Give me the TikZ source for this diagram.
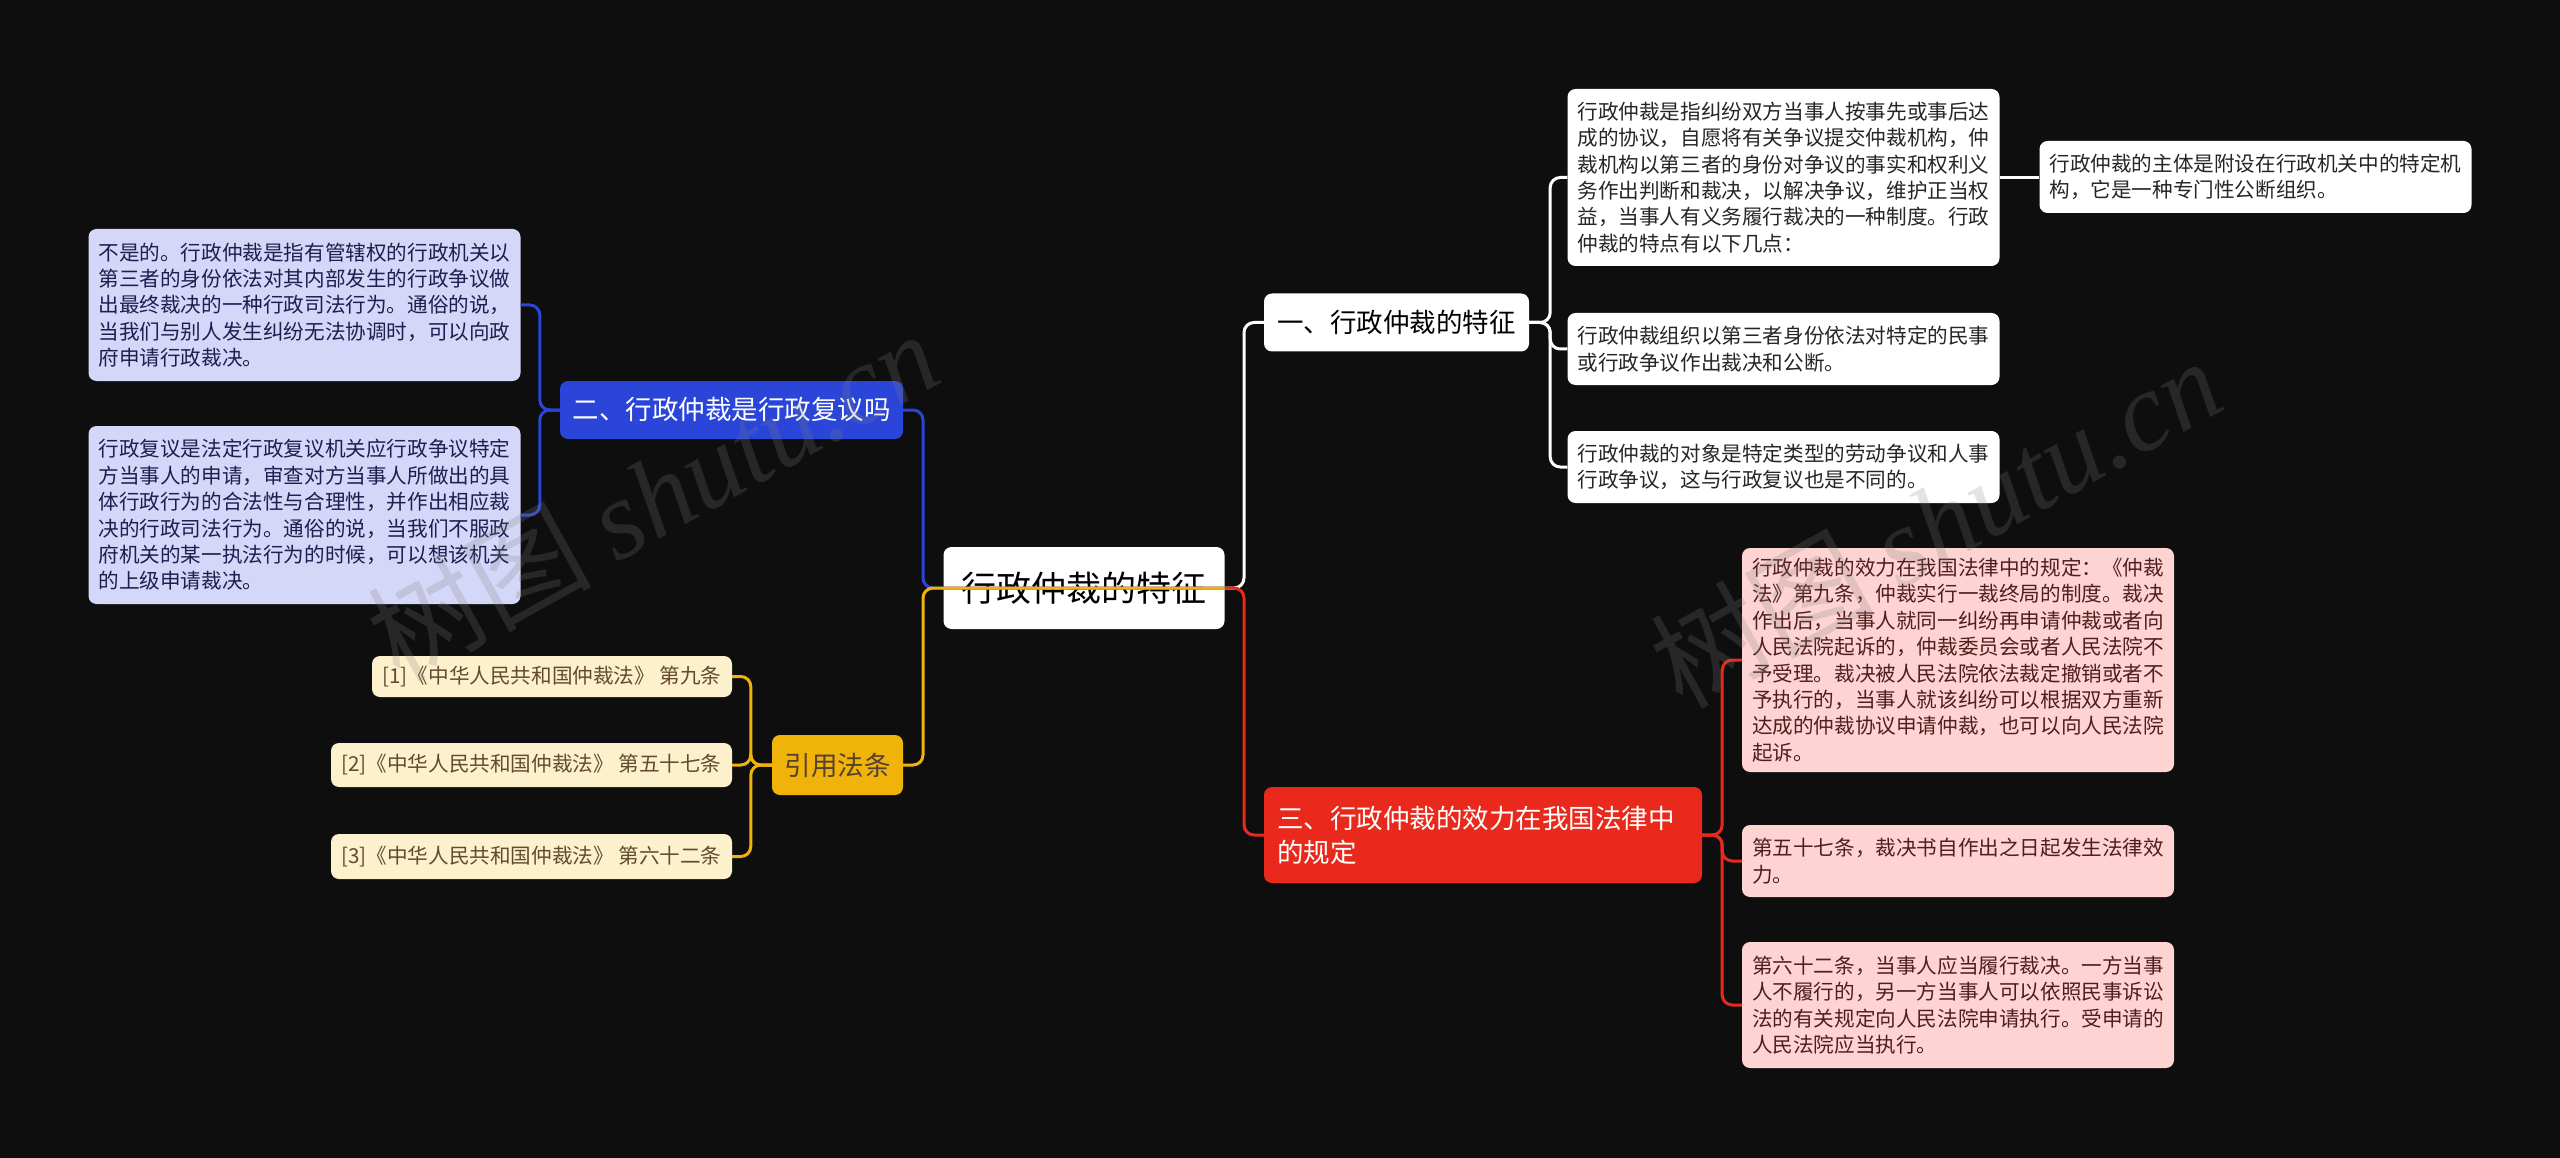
\documentclass[tikz,border=0pt]{standalone}
\usepackage{fontspec}
\newfontfamily\cjk{Noto Sans CJK SC}
\newfontfamily\wmserif{Liberation Serif}
\usepackage{tikz}
\usetikzlibrary{calc}
\usepackage{xcolor}

\definecolor{bgc}{HTML}{0E0E0E}
\definecolor{bluec}{HTML}{2A45D8}
\definecolor{redc}{HTML}{E8291B}
\definecolor{yellowc}{HTML}{F0B30A}
\definecolor{lavc}{HTML}{D4D7F7}
\definecolor{pinkc}{HTML}{FDD4D1}
\definecolor{creamc}{HTML}{FDF0CD}
\definecolor{inkc}{HTML}{262626}

\begin{document}
\begin{tikzpicture}[x=1pt, y=-1pt,
        % Define the styles for boxes and connectors
        box/.style={rectangle, rounded corners=8pt, inner ysep=0pt, font=\cjk},
        rootbox/.style={box, fill=white, text=black, minimum width=281pt, minimum height=82pt,
            font=\cjk\fontsize{35}{42}\selectfont},
        topic/.style={box, font=\cjk\fontsize{26.5}{34}\selectfont, align=left},
        leaf/.style={box, font=\cjk\fontsize{20.6}{26.4}\selectfont, align=left,
            text width=412pt, inner xsep=10pt},
        cite/.style={box, fill=creamc, text=inkc!60!brown, font=\cjk\fontsize{20.6}{26.4}\selectfont},
        wire/.style={line width=3pt, rounded corners=10pt},
        wmark/.style={text=gray, text opacity=0.22, font=\cjk\fontsize{112}{120}\selectfont}]

        % 1. Background and page size
        \fill[bgc] (0,0) rectangle (2560,1158);
        \useasboundingbox (0,0) rectangle (2560,1158);

        % 2. The spines beside the central topic
        \coordinate (rspine) at (1244,588);
        \coordinate (lspine) at (923,588);

        % 3. Central topic and main topics
        \node[rootbox] (root) at (1084,588) {行政仲裁的特征};
        \node[topic, fill=white, text=black, minimum width=265pt, minimum height=58pt] (one) at (1396.5,322.5) {一、行政仲裁的特征};
        \node[topic, fill=bluec, text=white, minimum width=343pt, minimum height=58pt] (two) at (731.5,410) {二、行政仲裁是行政复议吗};
        \node[topic, fill=redc, text=white, text width=412pt, inner xsep=13pt, minimum height=96pt] (three) at (1483,835) {三、行政仲裁的效力在我国法律中\\的规定};
        \node[topic, fill=yellowc, text=inkc!70!brown, minimum width=131pt, minimum height=60pt] (cites) at (837.5,765) {引用法条};

        % 4. Leaves of the first topic
        \node[leaf, fill=white, text=inkc, minimum height=177pt] (l11) at (1783.5,177.5) {行政仲裁是指纠纷双方当事人按事先或事后达\\成的协议，自愿将有关争议提交仲裁机构，仲\\裁机构以第三者的身份对争议的事实和权利义\\务作出判断和裁决，以解决争议，维护正当权\\益，当事人有义务履行裁决的一种制度。行政\\仲裁的特点有以下几点：};
        \node[leaf, fill=white, text=inkc, minimum height=72pt] (l111) at (2255.5,177) {行政仲裁的主体是附设在行政机关中的特定机\\构，它是一种专门性公断组织。};
        \node[leaf, fill=white, text=inkc, minimum height=72pt] (l12) at (1783.5,349) {行政仲裁组织以第三者身份依法对特定的民事\\或行政争议作出裁决和公断。};
        \node[leaf, fill=white, text=inkc, minimum height=72pt] (l13) at (1783.5,467) {行政仲裁的对象是特定类型的劳动争议和人事\\行政争议，这与行政复议也是不同的。};

        % 5. Leaves of the second topic
        \node[leaf, fill=lavc, text=inkc!80!blue, minimum height=152pt] (l21) at (304.5,305) {不是的。行政仲裁是指有管辖权的行政机关以\\第三者的身份依法对其内部发生的行政争议做\\出最终裁决的一种行政司法行为。通俗的说，\\当我们与别人发生纠纷无法协调时，可以向政\\府申请行政裁决。};
        \node[leaf, fill=lavc, text=inkc!80!blue, minimum height=178pt] (l22) at (304.5,515) {行政复议是法定行政复议机关应行政争议特定\\方当事人的申请，审查对方当事人所做出的具\\体行政行为的合法性与合理性，并作出相应裁\\决的行政司法行为。通俗的说，当我们不服政\\府机关的某一执法行为的时候，可以想该机关\\的上级申请裁决。};

        % 6. Leaves of the third topic
        \node[leaf, fill=pinkc, text=inkc!80!red, minimum height=224pt] (l31) at (1958,660) {行政仲裁的效力在我国法律中的规定：《仲裁\\法》第九条，仲裁实行一裁终局的制度。裁决\\作出后，当事人就同一纠纷再申请仲裁或者向\\人民法院起诉的，仲裁委员会或者人民法院不\\予受理。裁决被人民法院依法裁定撤销或者不\\予执行的，当事人就该纠纷可以根据双方重新\\达成的仲裁协议申请仲裁，也可以向人民法院\\起诉。};
        \node[leaf, fill=pinkc, text=inkc!80!red, minimum height=72pt] (l32) at (1958,861) {第五十七条，裁决书自作出之日起发生法律效\\力。};
        \node[leaf, fill=pinkc, text=inkc!80!red, minimum height=126pt] (l33) at (1958,1005) {第六十二条，当事人应当履行裁决。一方当事\\人不履行的，另一方当事人可以依照民事诉讼\\法的有关规定向人民法院申请执行。受申请的\\人民法院应当执行。};

        % 7. Cited articles
        \node[cite, minimum width=360pt, minimum height=41pt] (l41) at (552,676.5) {[1]《中华人民共和国仲裁法》 第九条};
        \node[cite, minimum width=401pt, minimum height=44pt] (l42) at (531.5,765) {[2]《中华人民共和国仲裁法》 第五十七条};
        \node[cite, minimum width=401pt, minimum height=45pt] (l43) at (531.5,856.5) {[3]《中华人民共和国仲裁法》 第六十二条};

        % 8. Connectors from the central topic
        \draw[wire, white] (root.east) -- (rspine) |- (one.west);
        \draw[wire, redc] (root.east) -- (rspine) |- (three.west);
        \draw[wire, bluec] (root.east) -- (lspine) |- (two.east);
        \draw[wire, yellowc] (root.east) -- (lspine) |- (cites.east);

        % 9. Connectors to the leaves
        \foreach \leafname in {l11, l12, l13}
            \draw[wire, white] (one.east) -- ++(21,0) |- (\leafname.west);
        \draw[wire, white] (l11.east) -- (l11.east -| l111.west);
        \foreach \leafname in {l21, l22}
            \draw[wire, bluec] (two.west) -- ++(-20,0) |- (\leafname.east);
        \foreach \leafname in {l31, l32, l33}
            \draw[wire, redc] (three.east) -- ++(20,0) |- (\leafname.west);
        \foreach \leafname in {l41, l42, l43}
            \draw[wire, yellowc] (cites.west) -- ++(-21,0) |- (\leafname.east);

        % 10. Watermarks
        \node[wmark, rotate=29] (wmleft) at (652,495) {树图 {\wmserif\itshape shutu.cn}};
        \node[wmark, rotate=29] (wmright) at (1935,522) {树图 {\wmserif\itshape shutu.cn}};

    \end{tikzpicture}
\end{document}
